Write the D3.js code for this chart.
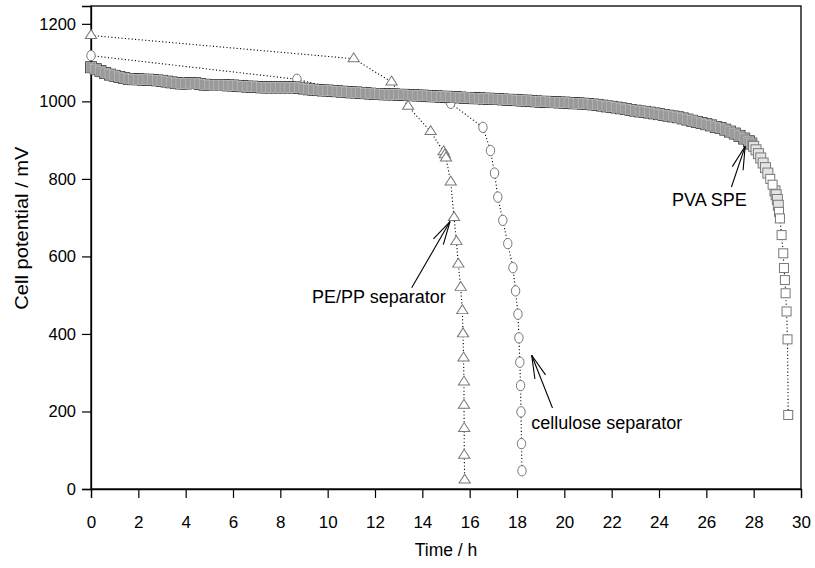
<!DOCTYPE html>
<html>
<head>
<meta charset="utf-8">
<script src="https://cdn.jsdelivr.net/npm/d3@7/dist/d3.min.js"></script>
<style>
  html, body { margin: 0; padding: 0; background: #fff; }
  svg { display: block; font-family: "Liberation Sans", Arial, Helvetica, sans-serif; }
</style>
</head>
<body>
<svg id="chart" width="815" height="568"></svg>
<script>
// ---------------- data ----------------
const xTickValues = [0, 2, 4, 6, 8, 10, 12, 14, 16, 18, 20, 22, 24, 26, 28, 30];
const yTickValues = [0, 200, 400, 600, 800, 1000, 1200];
const xTitle = "Time / h";
const yTitle = "Cell potential / mV";

// PVA SPE (squares)
const pvaTime = [
  0.0, 0.2, 0.4, 0.6, 0.8, 1.0, 1.2, 1.4, 1.6, 1.8, 2.0, 2.2, 2.4, 2.6, 2.8, 3.0, 3.2, 3.4, 3.6, 3.8,
  4.0, 4.2, 4.4, 4.6, 4.8, 5.0, 5.2, 5.4, 5.6, 5.8, 6.0, 6.2, 6.4, 6.6, 6.8, 7.0, 7.2, 7.4, 7.6, 7.8,
  8.0, 8.2, 8.4, 8.6, 8.8, 9.0, 9.2, 9.4, 9.6, 9.8, 10.0, 10.2, 10.4, 10.6, 10.8, 11.0, 11.2, 11.4, 11.6, 11.8,
  12.0, 12.2, 12.4, 12.6, 12.8, 13.0, 13.2, 13.4, 13.6, 13.8, 14.0, 14.2, 14.4, 14.6, 14.8, 15.0, 15.2, 15.4, 15.6, 15.8,
  16.0, 16.2, 16.4, 16.6, 16.8, 17.0, 17.2, 17.4, 17.6, 17.8, 18.0, 18.2, 18.4, 18.6, 18.8, 19.0, 19.2, 19.4, 19.6, 19.8,
  20.0, 20.2, 20.4, 20.6, 20.8, 21.0, 21.2, 21.4, 21.6, 21.8, 22.0, 22.2, 22.4, 22.6, 22.8, 23.0, 23.2, 23.4, 23.6, 23.8,
  24.0, 24.2, 24.4, 24.6, 24.8, 25.0, 25.2, 25.4, 25.6, 25.8, 26.0, 26.2, 26.4, 26.6, 26.8, 27.0, 27.2, 27.4, 27.6, 27.8,
  27.9, 28.0, 28.1, 28.2, 28.3, 28.4, 28.5, 28.6, 28.7, 28.8, 28.9, 28.95, 29.0, 29.04, 29.07,
  29.11, 29.18, 29.25, 29.28, 29.32, 29.35, 29.39, 29.43, 29.46
];
const pvaVolt = [
  1088, 1083, 1078, 1073, 1069, 1066, 1063, 1060, 1058, 1057, 1057, 1056, 1056, 1055, 1054, 1053, 1051, 1049, 1047, 1046,
  1046, 1047, 1047, 1045, 1043, 1042, 1042, 1042, 1042, 1041, 1041, 1040, 1039, 1038, 1038, 1037, 1036, 1036, 1036, 1036,
  1036, 1036, 1036, 1036, 1035, 1033, 1031, 1030, 1029, 1028, 1028, 1027, 1026, 1025, 1024, 1023, 1023, 1022, 1021, 1020,
  1019, 1019, 1018, 1018, 1018, 1017, 1017, 1016, 1016, 1015, 1015, 1014, 1013, 1013, 1012, 1012, 1011, 1011, 1010, 1009,
  1009, 1008, 1008, 1007, 1007, 1006, 1006, 1005, 1004, 1004, 1003, 1002, 1002, 1001, 1000, 999, 999, 998, 998, 997,
  997, 996, 995, 995, 994, 993, 992, 991, 989, 987, 986, 984, 982, 980, 978, 976, 974, 973, 971, 969,
  967, 965, 963, 961, 959, 956, 953, 950, 947, 944, 941, 938, 934, 931, 927, 922, 917, 911, 904, 897,
  891, 884, 875, 865, 854, 841, 829, 815, 800, 785, 769, 759, 747, 732, 715,
  698, 655, 608, 570, 539, 505, 458, 386, 191
];

// PE/PP separator (triangles)
const peppTime = [0.0, 11.1, 12.7, 13.4, 14.35, 14.9, 14.95, 15.0, 15.2, 15.34, 15.44, 15.52, 15.62, 15.69, 15.72, 15.74, 15.76, 15.76, 15.77, 15.77, 15.79];
const peppVolt = [1170, 1110, 1050, 987, 922, 870, 862, 854, 792, 700, 638, 580, 520, 460, 400, 338, 276, 216, 156, 87, 23];

// cellulose separator (circles)
const celTime = [0.0, 8.7, 11.0, 15.2, 16.56, 16.88, 17.05, 17.19, 17.40, 17.61, 17.83, 17.94, 18.04, 18.08, 18.12, 18.15, 18.17, 18.19, 18.21];
const celVolt = [1118, 1057, 1023, 995, 933, 873, 815, 753, 693, 633, 571, 511, 451, 390, 327, 267, 199, 117, 47];

// annotations (data coordinates)
const annotations = [
  { text: "PE/PP separator",     textAt: [9.34, 479], tail: [13.55, 519], tip: [15.17, 690] },
  { text: "cellulose separator", textAt: [18.6, 156], tail: [19.5, 209],  tip: [18.62, 345] },
  { text: "PVA SPE",             textAt: [24.55, 730], tail: [27.06, 779], tip: [27.64, 884] }
];

// ---------------- drawing ----------------
const svg = d3.select("#chart");
const margin = { left: 91, right: 14, top: 6, bottom: 79 };
const W = 815, H = 568;
const x = d3.scaleLinear().domain([0, 30]).range([margin.left, W - margin.right]);
const y = d3.scaleLinear().domain([0, 1246]).range([H - margin.bottom, margin.top]);

// frame
svg.append("rect")
  .attr("x", x(0)).attr("y", y(1246))
  .attr("width", x(30) - x(0)).attr("height", y(0) - y(1246))
  .attr("fill", "none").attr("stroke", "#000").attr("stroke-width", 1.3);

// axes
const xAxis = d3.axisBottom(x).tickValues(xTickValues).tickSize(9).tickPadding(18).tickFormat(d3.format("d"));
const yAxis = d3.axisLeft(y).tickValues(yTickValues).tickSize(9).tickPadding(6).tickFormat(d3.format("d"));
const gx = svg.append("g").attr("transform", `translate(0,${y(0)})`).call(xAxis);
const gy = svg.append("g").attr("transform", `translate(${x(0)},0)`).call(yAxis);
[gx, gy].forEach(g => {
  g.select(".domain").attr("stroke-width", 1.3);
  g.selectAll(".tick line").attr("stroke-width", 1.2);
  g.selectAll(".tick text").attr("fill", "#000")
    .attr("font-family", "'Liberation Sans', Arial, sans-serif");
});
gx.selectAll(".tick text").attr("font-size", 17);
gy.selectAll(".tick text").attr("font-size", 16.5);

svg.append("text").attr("x", (x(0) + x(30)) / 2).attr("y", 556)
  .attr("text-anchor", "middle").attr("font-size", 17.5).text(xTitle);
svg.append("text")
  .attr("transform", `translate(28,${y(673)}) rotate(-90) scale(1.15,1)`)
  .attr("text-anchor", "middle").attr("font-size", 17.5).text(yTitle);

const line = d3.line().x(d => x(d[0])).y(d => y(d[1]));
const dotted = (pts) => svg.append("path").attr("d", line(pts))
  .attr("fill", "none").attr("stroke", "#000").attr("stroke-width", 1.1)
  .attr("stroke-dasharray", "1.1,2.3");

const celPts = celTime.map((t, i) => [t, celVolt[i]]);
const peppPts = peppTime.map((t, i) => [t, peppVolt[i]]);
const pvaPts = pvaTime.map((t, i) => [t, pvaVolt[i]]);

// cellulose
dotted(celPts);
svg.append("g").selectAll("ellipse").data(celPts).join("ellipse")
  .attr("cx", d => x(d[0])).attr("cy", d => y(d[1]))
  .attr("rx", 4.2).attr("ry", 5.2)
  .attr("fill", "#fff").attr("stroke", "#777").attr("stroke-width", 1);

// PE/PP
dotted(peppPts);
const tri = d3.symbol().type(d3.symbolTriangle).size(50);
svg.append("g").selectAll("path").data(peppPts).join("path")
  .attr("d", tri)
  .attr("transform", d => `translate(${x(d[0])},${y(d[1])}) scale(1.05,0.95)`)
  .attr("fill", "#fff").attr("stroke", "#777").attr("stroke-width", 1);

// PVA SPE
dotted(pvaPts);
const px = pvaPts.map(d => [x(d[0]), y(d[1])]);
const nb = (i) => {
  const d = [];
  if (i > 0) d.push([px[i][0] - px[i - 1][0], px[i][1] - px[i - 1][1]]);
  if (i < px.length - 1) d.push([px[i + 1][0] - px[i][0], px[i + 1][1] - px[i][1]]);
  return d;
};
const kind = px.map((p, i) => {
  const d = nb(i);
  const minDist = Math.min(...d.map(v => Math.hypot(v[0], v[1])));
  if (minDist >= 6) return "sparse";
  const maxDy = Math.max(...d.map(v => Math.abs(v[1])));
  return maxDy > 3.4 ? "steep" : "band";
});
const S = 10;
const bandIdx = d3.range(px.length).filter(i => kind[i] === "band");
const steepIdx = d3.range(px.length).filter(i => kind[i] === "steep");
const sparseIdx = d3.range(px.length).filter(i => kind[i] === "sparse");
const gp = svg.append("g");
gp.selectAll("rect.env").data(bandIdx).join("rect").attr("class", "env")
  .attr("x", i => px[i][0] - S / 2 - 0.9).attr("y", i => px[i][1] - S / 2 - 0.9)
  .attr("width", S + 1.8).attr("height", S + 1.8).attr("fill", "#1e1e1e");
gp.selectAll("rect.body").data(bandIdx).join("rect").attr("class", "body")
  .attr("x", i => px[i][0] - S / 2).attr("y", i => px[i][1] - S / 2)
  .attr("width", S).attr("height", S)
  .attr("fill", "#9a9a9a").attr("stroke", "#c4c4c4").attr("stroke-width", 0.5);
gp.selectAll("rect.steep").data(steepIdx).join("rect").attr("class", "steep")
  .attr("x", i => px[i][0] - S / 2).attr("y", i => px[i][1] - S / 2)
  .attr("width", S).attr("height", S)
  .attr("fill", "#e4e4e4").attr("stroke", "#6f6f6f").attr("stroke-width", 0.9);
gp.selectAll("rect.sparse").data(sparseIdx).join("rect").attr("class", "sparse")
  .attr("x", i => px[i][0] - S / 2 + 0.5).attr("y", i => px[i][1] - S / 2 + 0.5)
  .attr("width", S - 1).attr("height", S - 1)
  .attr("fill", "#fff").attr("stroke", "#777").attr("stroke-width", 1);

// annotations
annotations.forEach(a => {
  const tip = [x(a.tip[0]), y(a.tip[1])];
  const tail = [x(a.tail[0]), y(a.tail[1])];
  const ang = Math.atan2(tail[1] - tip[1], tail[0] - tip[0]);
  const g = svg.append("g").attr("stroke", "#000").attr("stroke-width", 1.1);
  g.append("line").attr("x1", tail[0]).attr("y1", tail[1]).attr("x2", tip[0]).attr("y2", tip[1]);
  [-0.24, 0.24].forEach(da => {
    g.append("line").attr("x1", tip[0]).attr("y1", tip[1])
      .attr("x2", tip[0] + 24 * Math.cos(ang + da)).attr("y2", tip[1] + 24 * Math.sin(ang + da));
  });
  svg.append("text").attr("x", x(a.textAt[0])).attr("y", y(a.textAt[1]))
    .attr("font-size", 18).attr("fill", "#000").text(a.text);
});
</script>
</body>
</html>
